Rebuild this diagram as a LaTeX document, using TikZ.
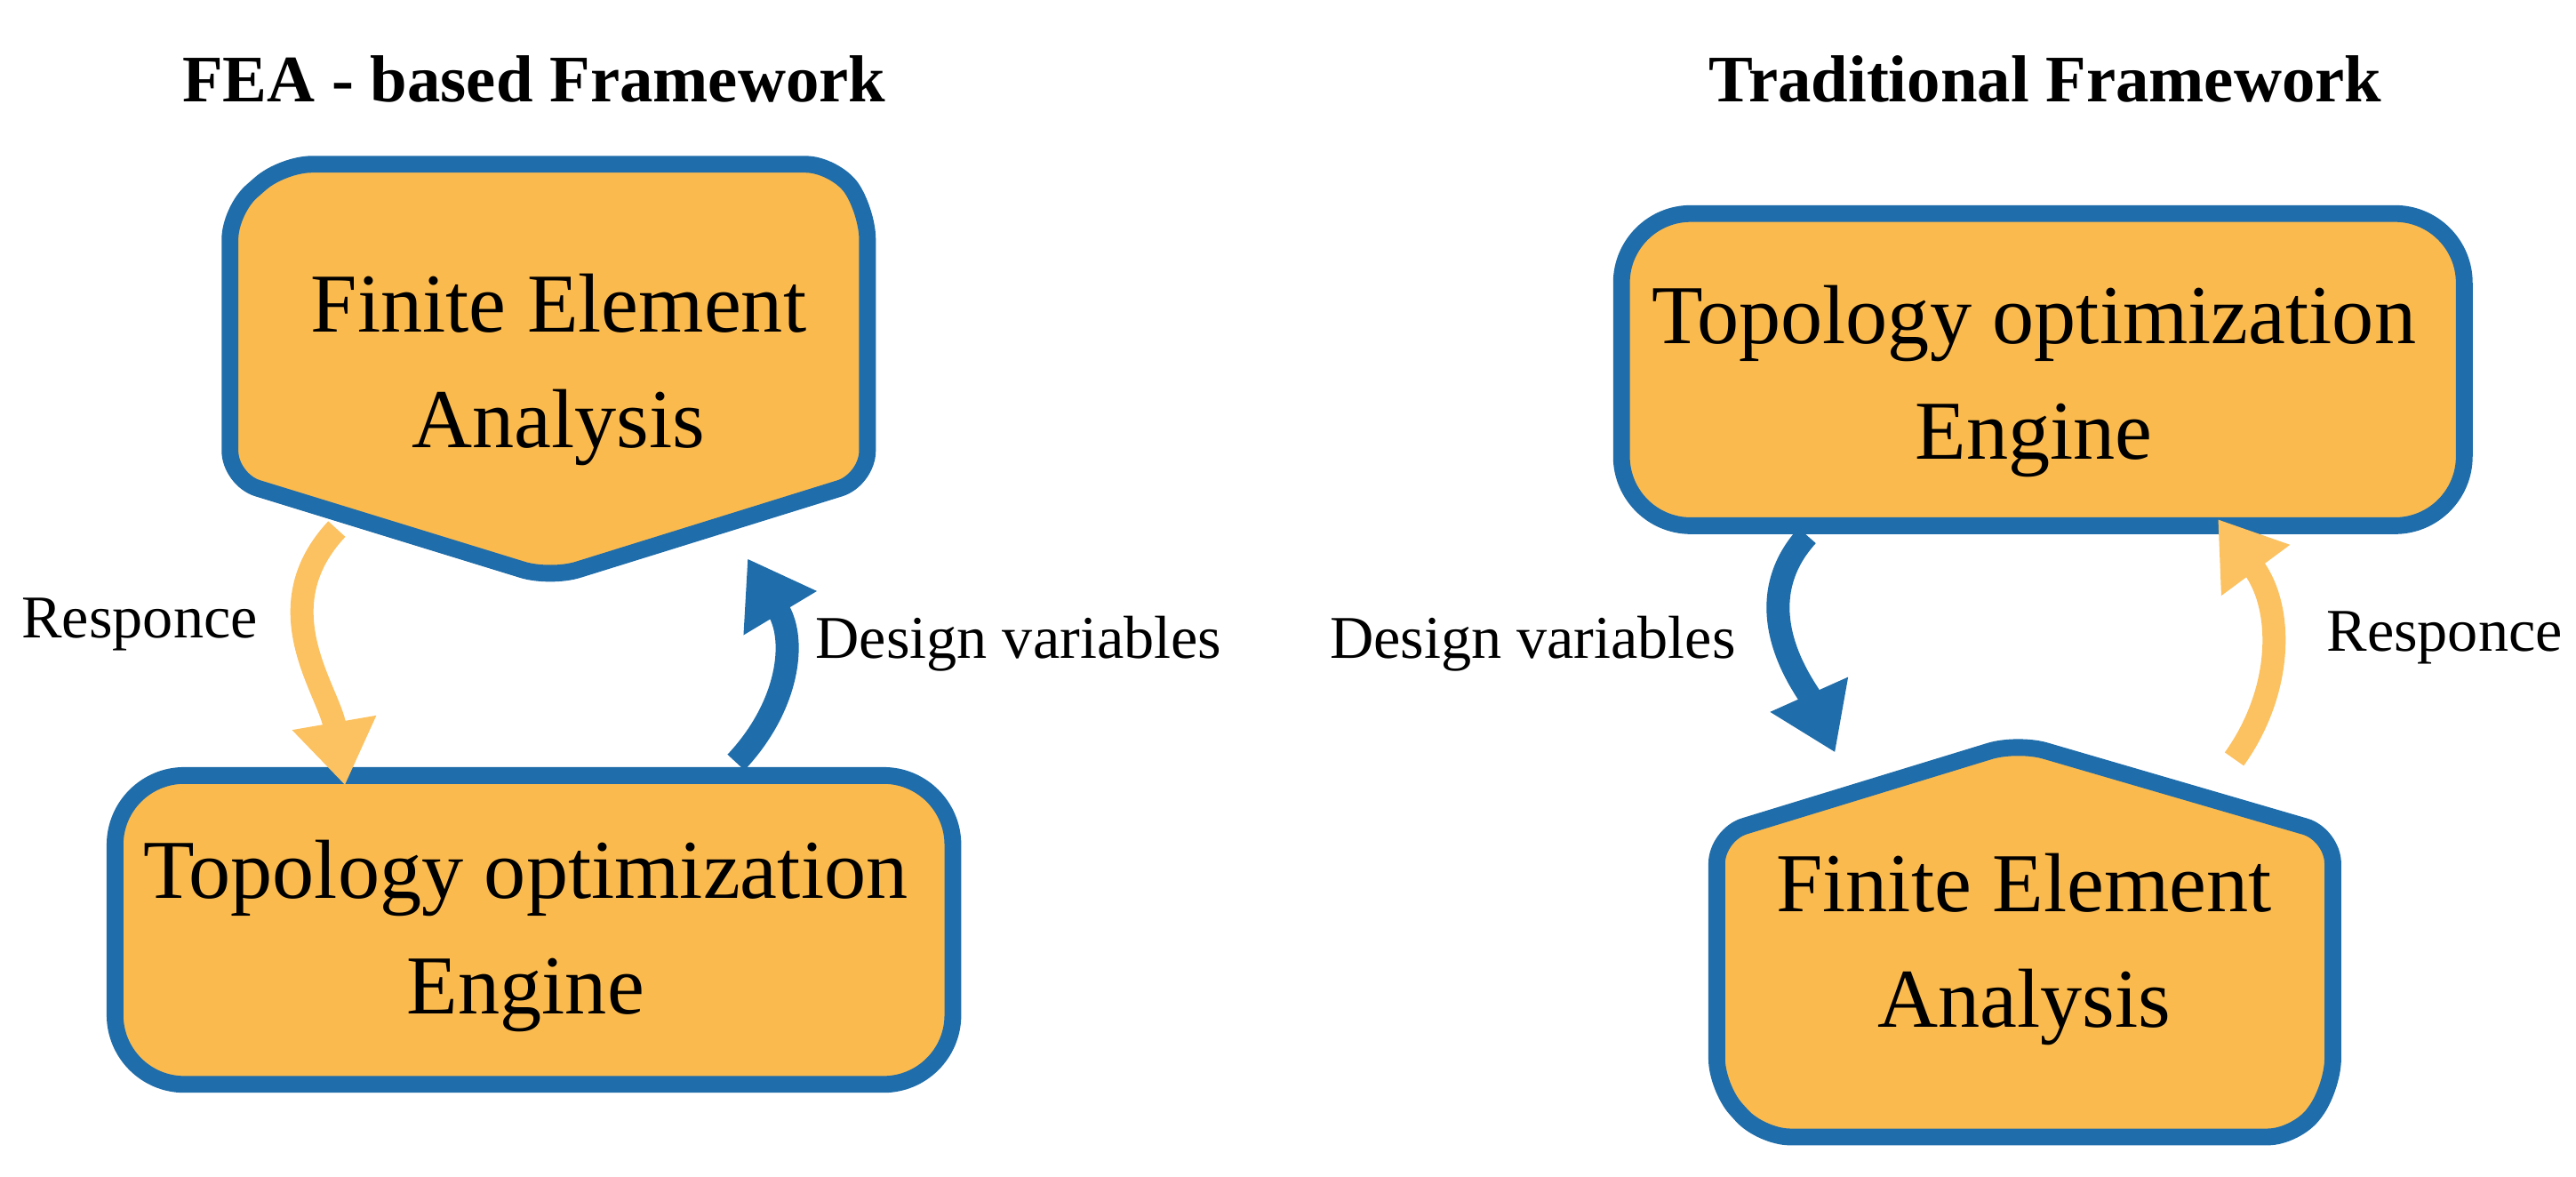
\documentclass[tikz,border=0pt]{standalone}
\usepackage{fontspec}
\setmainfont{Liberation Serif}
\usetikzlibrary{arrows.meta}
\definecolor{fillo}{HTML}{FBBA4E}
\definecolor{bl}{HTML}{1F6DAA}
\definecolor{yl}{HTML}{FCC160}
\begin{document}
\begin{tikzpicture}[x=0.01cm,y=-0.01cm,
 box/.style={draw=bl,fill=fillo,line width=2.9pt,rounded corners=12pt},
 hex/.style={draw=bl,fill=fillo,line width=2.9pt,rounded corners=5pt},
 big/.style={font=\fontsize{14.5}{20}\selectfont,align=center},
 lab/.style={font=\fontsize{10.5}{12}\selectfont},
 ttl/.style={font=\bfseries\fontsize{11.5}{13}\selectfont},
 arr/.style={line width=4pt,-{Triangle[width=14pt,length=11pt]}}]
\useasboundingbox (0,0) rectangle (1568,716);
% left
\node[ttl] (t1) at (325,48) {FEA - based Framework};
\draw[hex] (172,100) -- (508,100) -- (528,128) -- (528,292) -- (335,352) -- (140,292) -- (140,128) -- cycle;
\node[big] (fea1) at (340,225) {Finite Element\\ Analysis};
\draw[box] (70,472) rectangle (580,660);
\node[big] (top1) at (320,570) {Topology optimization\\ Engine};
\coordinate (a1s) at (205,322);
\coordinate (a1e) at (210,478);
\draw[arr,yl] (a1s) .. controls (160,370) and (200,420) .. (a1e);
\coordinate (a2s) at (448,464);
\coordinate (a2e) at (455,340);
\draw[arr,bl] (a2s) .. controls (480,430) and (485,390) .. (a2e);
\node[lab] (r1) at (85,380) {Responce};
\node[lab] (d1) at (620,392) {Design variables};
% right
\node[ttl] (t2) at (1245,48) {Traditional Framework};
\draw[box] (987,130) rectangle (1500,320);
\node[big] (top2) at (1238,232) {Topology optimization\\ Engine};
\draw[hex] (1228,452) -- (1420,508) -- (1420,662) -- (1398,692) -- (1072,692) -- (1045,662) -- (1045,508) -- cycle;
\node[big] (fea2) at (1232,578) {Finite Element\\ Analysis};
\coordinate (b1s) at (1100,326);
\coordinate (b1e) at (1117,458);
\draw[arr,bl] (b1s) .. controls (1060,370) and (1100,420) .. (b1e);
\coordinate (b2s) at (1360,462);
\coordinate (b2e) at (1350,316);
\draw[arr,yl] (b2s) .. controls (1390,420) and (1390,370) .. (b2e);
\node[lab] (d2) at (933,392) {Design variables};
\node[lab] (r2) at (1488,388) {Responce};
\end{tikzpicture}
\end{document}
